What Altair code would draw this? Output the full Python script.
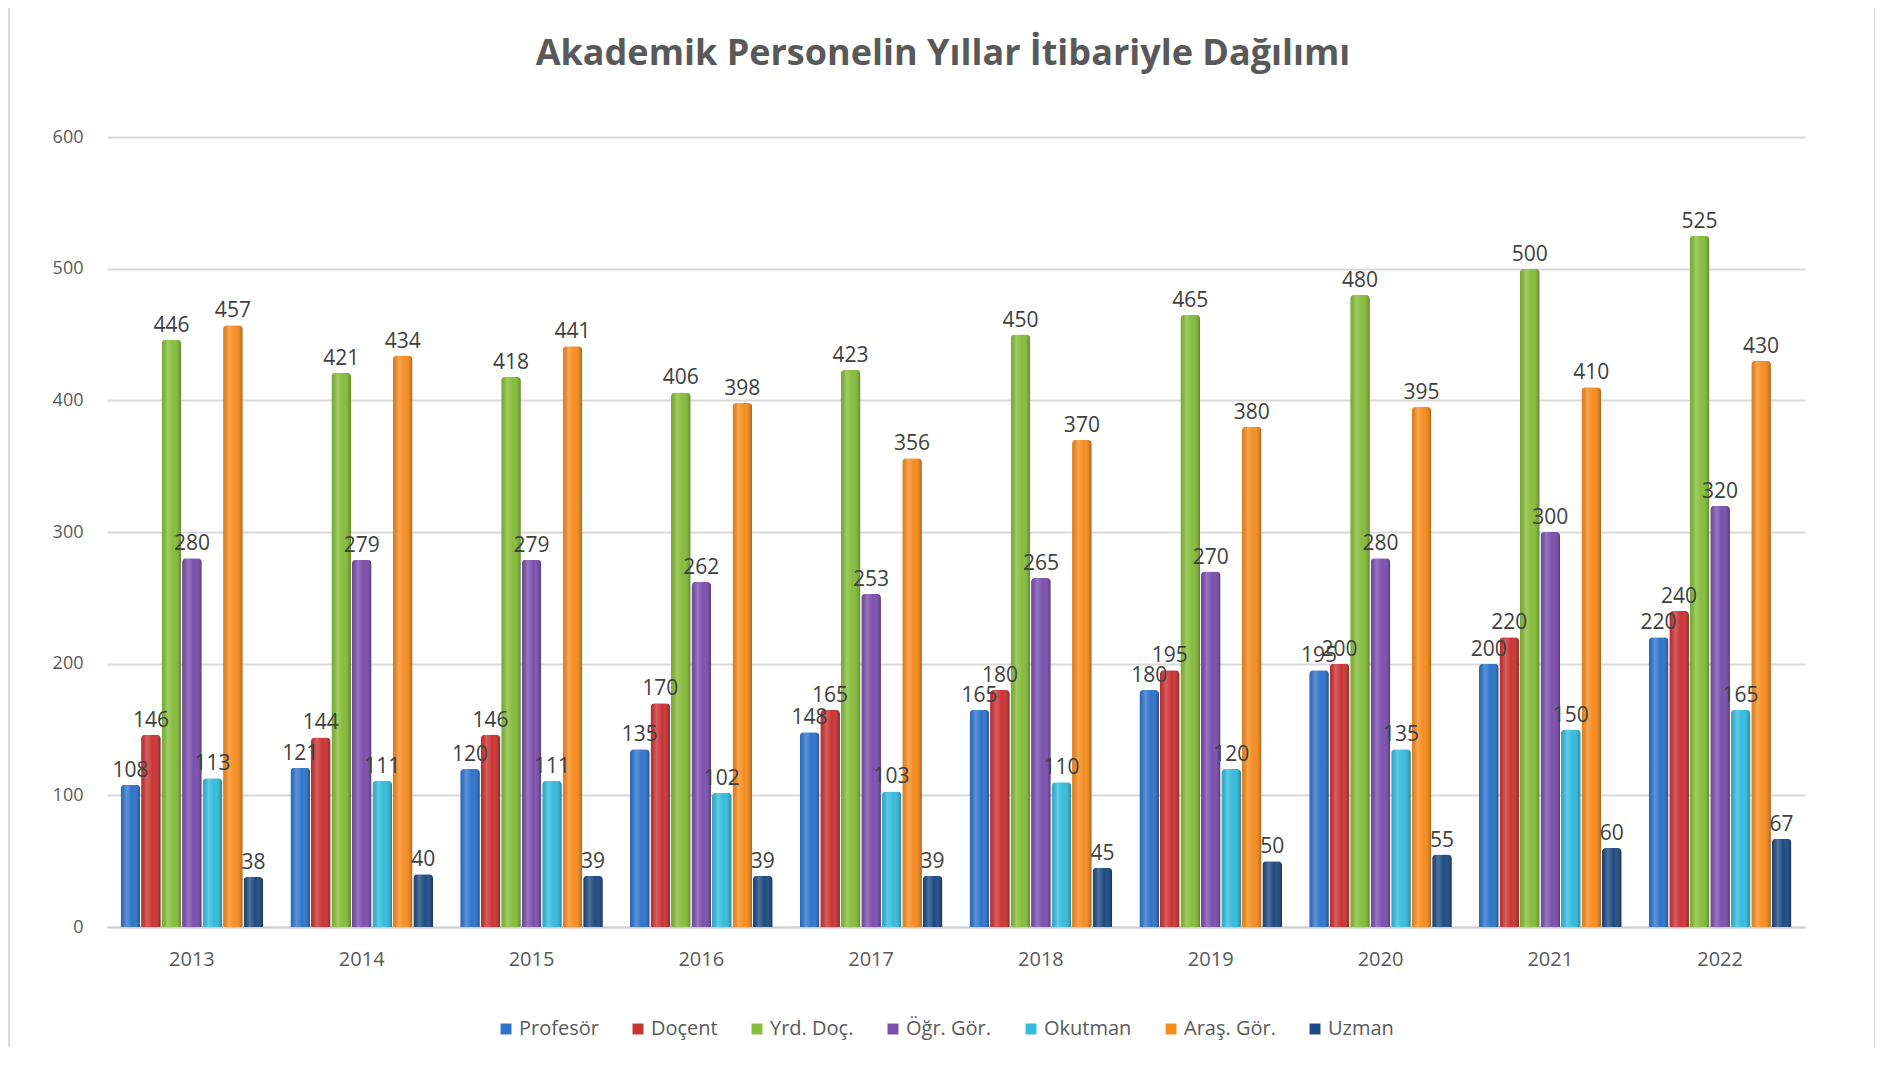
import altair as alt
import pandas as pd

years = ["2013", "2014", "2015", "2016", "2017", "2018", "2019", "2020", "2021", "2022"]
series = ["Profesör", "Doçent", "Yrd. Doç.", "Öğr. Gör.", "Okutman", "Araş. Gör.", "Uzman"]
profesor = [108, 121, 120, 135, 148, 165, 180, 195, 200, 220]
docent = [146, 144, 146, 170, 165, 180, 195, 200, 220, 240]
yrd_doc = [446, 421, 418, 406, 423, 450, 465, 480, 500, 525]
ogr_gor = [280, 279, 279, 262, 253, 265, 270, 280, 300, 320]
okutman = [113, 111, 111, 102, 103, 110, 120, 135, 150, 165]
aras_gor = [457, 434, 441, 398, 356, 370, 380, 395, 410, 430]
uzman = [38, 40, 39, 39, 39, 45, 50, 55, 60, 67]
colors = ["#2f74cc", "#cc3333", "#86bd3a", "#7b4fae", "#35bcdc", "#f78c1f", "#1d4a82"]
title_text = "Akademik Personelin Yıllar İtibariyle Dağılımı"

values = [profesor, docent, yrd_doc, ogr_gor, okutman, aras_gor, uzman]
rows = []
for s, vals in zip(series, values):
    for y, v in zip(years, vals):
        rows.append({"Yıl": y, "Seri": s, "Değer": v})
df = pd.DataFrame(rows)

FONT = "Open Sans"

x_enc = alt.X("Yıl:N", sort=years, scale=alt.Scale(paddingInner=0.16, paddingOuter=0.08),
              axis=alt.Axis(title=None, labelAngle=0, labelFontSize=20, labelColor="#595959",
                            labelFont=FONT, ticks=False, labelPadding=22,
                            domainColor="#d0d0d0", domainWidth=2, grid=False))
xo_enc = alt.XOffset("Seri:N", sort=series, scale=alt.Scale(domain=series, paddingInner=0.04))
y_enc = alt.Y("Değer:Q", scale=alt.Scale(domain=[0, 600]),
              axis=alt.Axis(title=None, values=[0, 100, 200, 300, 400, 500, 600],
                            labelFontSize=18, labelColor="#595959", labelFont=FONT,
                            ticks=False, domain=False, labelPadding=24,
                            gridColor="#d9d9d9", gridWidth=2))

base = alt.Chart(df)

bars = base.mark_bar(cornerRadiusTopLeft=4, cornerRadiusTopRight=4).encode(
    x=x_enc, xOffset=xo_enc, y=y_enc,
    color=alt.Color("Seri:N", sort=series,
                    scale=alt.Scale(domain=series, range=colors),
                    legend=alt.Legend(title=None, orient="none", direction="horizontal",
                                      legendX=389, legendY=882, symbolType="square",
                                      symbolSize=120, symbolStrokeWidth=0,
                                      labelFontSize=20, labelFont=FONT, labelColor="#595959",
                                      columnPadding=29, symbolOffset=0, labelOffset=3))
)

shade = base.mark_bar(
    cornerRadiusTopLeft=4, cornerRadiusTopRight=4,
    color=alt.Gradient(
        gradient="linear", x1=0, x2=1, y1=0, y2=0,
        stops=[
            alt.GradientStop(offset=0, color="rgba(0,0,0,0.10)"),
            alt.GradientStop(offset=0.3, color="rgba(255,255,255,0.22)"),
            alt.GradientStop(offset=0.6, color="rgba(255,255,255,0.0)"),
            alt.GradientStop(offset=1, color="rgba(0,0,0,0.30)"),
        ],
    ),
).encode(x=x_enc, xOffset=xo_enc, y=y_enc)

labels = base.mark_text(dy=-14, fontSize=21, font=FONT, color="#404040").encode(
    x=x_enc, xOffset=xo_enc, y=y_enc, text=alt.Text("Değer:Q")
)

frame = alt.Chart(pd.DataFrame({"a": [0]})).mark_rect(
    filled=False, stroke="#d9d9d9", strokeWidth=2
).encode(x=alt.value(-98), x2=alt.value(1768), y=alt.value(-134), y2=alt.value(925))

title = alt.Chart(pd.DataFrame({"t": [title_text]})).mark_text(
    font=FONT, fontSize=36, fontWeight="bold", color="#595959",
    align="center", baseline="middle"
).encode(x=alt.value(836), y=alt.value(-83), text="t:N")

chart = alt.layer(frame, bars, shade, labels, title).properties(
    width=1698,
    height=790,
    padding={"left": 99, "top": 129, "right": 70, "bottom": 120},
    autosize=alt.AutoSizeParams(type="none"),
    background="white",
).configure_view(stroke=None, strokeWidth=0)

chart.save("out.html", embed_options={"renderer": "svg", "actions": False})
